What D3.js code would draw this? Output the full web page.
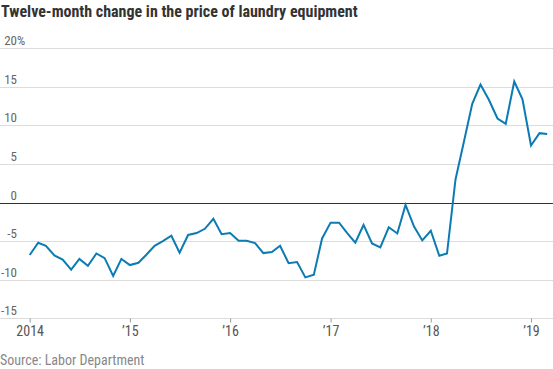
<!DOCTYPE html>
<html>
<head>
<meta charset="utf-8">
<script src="https://cdn.jsdelivr.net/npm/d3@7"></script>
<style>
  html, body { margin: 0; padding: 0; background: #fff; }
  svg { display: block; }
</style>
</head>
<body>
<svg id="chart" width="553" height="369"></svg>
<script>
const title = "Twelve-month change in the price of laundry equipment";
const source = "Source: Labor Department";
const startYear = 2014;
const values = [
  // 2014
  -6.8, -5.2, -5.6, -6.85, -7.4, -8.7, -7.3, -8.2, -6.6, -7.2, -9.5, -7.3,
  // 2015
  -8.1, -7.8, -6.8, -5.6, -5.0, -4.3, -6.5, -4.2, -3.95, -3.4, -2.1, -4.1,
  // 2016
  -3.95, -4.95, -4.95, -5.25, -6.55, -6.4, -5.6, -7.85, -7.7, -9.7, -9.35, -4.65,
  // 2017
  -2.6, -2.6, -3.9, -5.2, -2.9, -5.3, -5.8, -3.2, -4.0, -0.3, -3.1, -4.9,
  // 2018
  -3.65, -6.9, -6.6, 3.0, 7.8, 12.8, 15.3, 13.3, 10.9, 10.2, 15.7, 13.4,
  // 2019
  7.4, 9.0, 8.9
];
const yTicks = [-15, -10, -5, 0, 5, 10, 15, 20];
const xTickYears = [2014, 2015, 2016, 2017, 2018, 2019];
const xTickLabels = ["2014", "\u201915", "\u201916", "\u201917", "\u201918", "\u201919"];

const data = values.map((v, i) => ({ date: new Date(startYear, i, 1), value: v }));

const svg = d3.select("#chart");
const W = 553;
const font = "'Liberation Sans Narrow', 'Roboto Condensed', 'Roboto', sans-serif";

const x = d3.scaleTime()
  .domain([new Date(2014, 0, 1), new Date(2019, 0, 1)])
  .range([29.7, 531]);
const y = d3.scaleLinear().domain([-15, 20]).range([318.3, 48.3]);

// Title
svg.append("text")
  .attr("x", 1).attr("y", 17)
  .attr("font-family", font)
  .attr("font-weight", "bold")
  .attr("font-size", 16)
  .attr("fill", "#333")
  .text(title);

// Gridlines
const grid = svg.append("g");
grid.selectAll("line").data(yTicks.filter(d => d !== 0)).join("line")
  .attr("x1", 0).attr("x2", W)
  .attr("y1", d => Math.round(y(d)) + 0.5).attr("y2", d => Math.round(y(d)) + 0.5)
  .attr("stroke", "#dcdcdc").attr("stroke-width", 1);

// Y labels
const yl = svg.append("g")
  .attr("font-family", font).attr("font-size", 13).attr("fill", "#666");
yl.selectAll("text").data(yTicks).join("text")
  .attr("x", 17).attr("y", d => y(d) - 3)
  .attr("text-anchor", "end")
  .text(d => d < 0 ? "-" + Math.abs(d) : String(d));
yl.append("text")
  .attr("x", 17).attr("y", y(20) - 3)
  .text("%");

// X axis ticks via d3 axis
const xAxis = d3.axisBottom(x)
  .tickValues(xTickYears.map(yr => new Date(yr, 0, 1)))
  .tickSize(4)
  .tickFormat((d, i) => xTickLabels[i]);
const gx = svg.append("g")
  .attr("transform", `translate(0,${Math.round(y(-15)) + 0.5})`)
  .call(xAxis);
gx.select(".domain").remove();
gx.selectAll(".tick line").attr("stroke", "#999");
gx.selectAll(".tick text")
  .attr("font-family", font).attr("font-size", 14).attr("fill", "#555")
  .attr("dy", 0).attr("y", 17);

// Zero line
svg.append("line")
  .attr("x1", 0).attr("x2", W)
  .attr("y1", Math.round(y(0)) + 0.5).attr("y2", Math.round(y(0)) + 0.5)
  .attr("stroke", "#333").attr("stroke-width", 1.2);

// Line
const line = d3.line().x(d => x(d.date)).y(d => y(d.value));
svg.append("path")
  .datum(data)
  .attr("d", line)
  .attr("fill", "none")
  .attr("stroke", "#0b7bb4")
  .attr("stroke-width", 2)
  .attr("stroke-linejoin", "miter");

// Source
svg.append("text")
  .attr("x", 0).attr("y", 365)
  .attr("font-family", font).attr("font-size", 14).attr("fill", "#888")
  .text(source);
</script>
</body>
</html>
